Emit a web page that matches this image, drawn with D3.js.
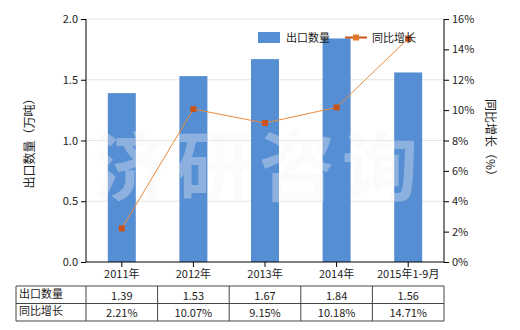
<!DOCTYPE html>
<html>
<head>
<meta charset="utf-8">
<script src="https://cdn.jsdelivr.net/npm/d3@7"></script>
<style>
body { margin: 0; background: #fff; }
svg text { font-family: "Noto Sans CJK SC", "DejaVu Sans", sans-serif; fill: #222; }
</style>
</head>
<body>
<svg id="chart" width="520" height="330"></svg>
<script>
const categories = ['2011年', '2012年', '2013年', '2014年', '2015年1-9月'];
const exportQty = [1.39, 1.53, 1.67, 1.84, 1.56];
const growth = [2.21, 10.07, 9.15, 10.18, 14.71];
const leftTicks = [0, 0.5, 1.0, 1.5, 2.0];
const rightTicks = [0, 2, 4, 6, 8, 10, 12, 14, 16];
const qtyLabels = ['1.39', '1.53', '1.67', '1.84', '1.56'];
const growthLabels = ['2.21%', '10.07%', '9.15%', '10.18%', '14.71%'];

const plotLeft = 86, plotRight = 444, plotTop = 19, plotBottom = 262;
const svg = d3.select('#chart');

const xc = d3.scaleBand().domain(categories).range([plotLeft, plotRight]);
const yL = d3.scaleLinear().domain([0, 2]).range([plotBottom, plotTop]);
const yR = d3.scaleLinear().domain([0, 16]).range([plotBottom, plotTop]);
const cx = c => xc(c) + xc.bandwidth() / 2;

// grid lines
svg.selectAll('.grid').data(leftTicks.slice(1)).enter().append('line')
    .attr('x1', plotLeft).attr('x2', plotRight)
    .attr('y1', d => yL(d)).attr('y2', d => yL(d))
    .style('stroke', '#e6e6dc').style('stroke-width', 1);

// bars
svg.selectAll('.bar').data(exportQty).enter().append('rect')
    .attr('x', (d, i) => cx(categories[i]) - 14)
    .attr('width', 28)
    .attr('y', d => yL(d))
    .attr('height', d => plotBottom - yL(d))
    .style('fill', '#568ed4');

// watermark
svg.append('text')
    .attr('x', 93).attr('y', 195)
    .style('font-size', '76px').style('font-weight', 'bold')
    .style('fill', '#f4f4f4').style('fill-opacity', 0.35)
    .style('letter-spacing', '7px')
    .text('济研咨询');

// line
const line = d3.line()
    .x((d, i) => cx(categories[i]))
    .y(d => yR(d));
svg.append('path').datum(growth)
    .attr('d', line)
    .style('fill', 'none').style('stroke', '#ec8a3a').style('stroke-width', 1);
svg.selectAll('.pt').data(growth).enter().append('rect')
    .attr('x', (d, i) => cx(categories[i]) - 3)
    .attr('y', d => yR(d) - 3)
    .attr('width', 6).attr('height', 6)
    .style('fill', '#c9531a');

// axes
const axL = svg.append('g').attr('transform', `translate(${plotLeft},0)`)
    .call(d3.axisLeft(yL).tickValues(leftTicks).tickFormat(d3.format('.1f')).tickSize(5).tickPadding(3));
const axR = svg.append('g').attr('transform', `translate(${plotRight},0)`)
    .call(d3.axisRight(yR).tickValues(rightTicks).tickFormat(d => d + '%').tickSize(5).tickPadding(3));
const axB = svg.append('g').attr('transform', `translate(0,${plotBottom})`)
    .call(d3.axisBottom(xc).tickSize(5).tickPadding(3));
[axL, axR, axB].forEach(g => {
    g.select('.domain').style('stroke', '#000');
    g.selectAll('.tick line').style('stroke', '#000');
    g.selectAll('.tick text').style('font-size', '11px').style('fill', '#222')
        .style('font-family', '"Noto Sans CJK SC", sans-serif');
});
axL.select('.domain').attr('d', `M0,${plotTop}V${plotBottom}`);
axR.select('.domain').attr('d', `M0,${plotTop}V${plotBottom}`);
axB.select('.domain').attr('d', `M${plotLeft},0H${plotRight}`);

// axis titles
svg.append('text')
    .attr('transform', `translate(34,${(plotTop + plotBottom) / 2}) rotate(-90)`)
    .attr('text-anchor', 'middle')
    .style('font-size', '12px')
    .text('出口数量（万吨）');
svg.append('text')
    .attr('transform', `translate(486,${(plotTop + plotBottom) / 2}) rotate(90)`)
    .attr('text-anchor', 'middle')
    .style('font-size', '12px')
    .text('同比增长（%）');

// legend
svg.append('rect').attr('x', 258).attr('y', 32).attr('width', 22).attr('height', 11).style('fill', '#568ed4');
svg.append('text').attr('x', 286).attr('y', 42).style('font-size', '11px').text('出口数量');
svg.append('line').attr('x1', 345).attr('x2', 367).attr('y1', 37.5).attr('y2', 37.5)
    .style('stroke', '#c9531a').style('stroke-width', 2);
svg.append('rect').attr('x', 353).attr('y', 34.5).attr('width', 6).attr('height', 6).style('fill', '#e07a2a');
svg.append('text').attr('x', 372).attr('y', 42).style('font-size', '11px').text('同比增长');

// data table
const rowY = [286, 303.5, 321];
const tableLeft = 16;
const tbl = svg.append('g');
rowY.forEach(y => {
    tbl.append('line').attr('x1', tableLeft).attr('x2', plotRight).attr('y1', y).attr('y2', y)
        .style('stroke', '#444').style('stroke-width', 1);
});
const colX = [tableLeft, plotLeft].concat(categories.map(c => xc(c) + xc.bandwidth()));
colX.forEach(x0 => {
    tbl.append('line').attr('x1', x0).attr('x2', x0).attr('y1', rowY[0]).attr('y2', rowY[2])
        .style('stroke', '#444').style('stroke-width', 1);
});
const rows = [['出口数量', qtyLabels], ['同比增长', growthLabels]];
rows.forEach((r, ri) => {
    const ty = (rowY[ri] + rowY[ri + 1]) / 2 + 4;
    tbl.append('text').attr('x', tableLeft + 3).attr('y', ty - 1).style('font-size', '11px').text(r[0]);
    r[1].forEach((v, i) => {
        tbl.append('text')
            .attr('x', cx(categories[i]))
            .attr('y', ty + 1)
            .attr('text-anchor', 'middle')
            .style('font-size', '11px')
            .text(v);
    });
});
</script>
</body>
</html>
